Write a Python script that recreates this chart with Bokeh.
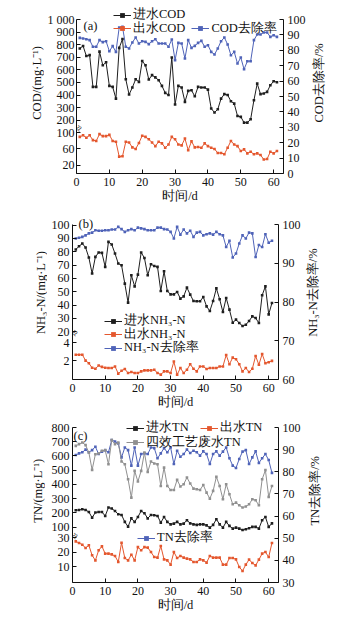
from bokeh.plotting import figure
from bokeh.models import (Range1d, LinearAxis, FixedTicker, Legend, LegendItem, Label)
from bokeh.layouts import column, row
from bokeh.embed import file_html
from bokeh.resources import INLINE

# ---------------- data ----------------
days = list(range(1, 62))
x_ticks = [0, 10, 20, 30, 40, 50, 60]

cod_in = [770, 790, 710, 717, 465, 465, 745, 637, 660, 473,
          465, 372, 775, 845, 525, 404, 460, 525, 505, 670,
          637, 523, 558, 540, 518, 473, 417, 400, 698, 325,
          473, 460, 346, 433, 438, 390, 465, 460, 460, 443,
          293, 261, 287, 372, 407, 400, 351, 332, 234, 227,
          181, 181, 208, 359, 491, 407, 412, 425, 478, 510, 502]
cod_out = [90, 94, 88, 94, 82, 80, 97, 92, 92, 95,
           80, 78, 41, 42, 78, 76, 64, 60, 75, 93,
           90, 84, 76, 67, 78, 74, 63, 71, 90, 84,
           71, 69, 86, 57, 79, 64, 65, 63, 74, 67,
           63, 60, 50, 50, 47, 63, 80, 71, 67, 55,
           59, 49, 53, 47, 49, 45, 34, 35, 53, 49, 55]
cod_rate = [88.1, 87.7, 87.2, 86.6, 82.3, 82.3, 86.6, 85.3, 85.9, 79.4,
            82.7, 79.0, 94.8, 95.2, 82.3, 81.2, 85.1, 88.3, 84.4, 85.9,
            85.5, 84.0, 85.9, 87.2, 84.4, 84.4, 84.4, 82.3, 87.0, 73.6,
            84.8, 84.4, 74.7, 86.6, 81.6, 82.9, 84.8, 86.1, 82.3, 83.3,
            79.0, 77.3, 81.2, 85.9, 88.3, 83.8, 76.8, 79.0, 71.4, 75.3,
            67.7, 72.9, 72.9, 86.6, 90.3, 90.3, 91.6, 91.6, 88.7, 89.8, 88.7]

nh_in = [81.7, 84.2, 86.2, 83.2, 75.7, 63.7, 76.2, 79.5, 79.2, 68.7,
         87.5, 85.5, 78.7, 71.2, 69.9, 56.1, 41.9, 62.4, 54.1, 62.9,
         79.5, 75.4, 62.4, 70.7, 69.4, 68.7, 50.6, 65.4, 50.6, 48.1,
         48.1, 49.9, 44.9, 46.6, 53.1, 47.9, 43.1, 42.9, 42.9, 46.1,
         39.1, 35.6, 43.1, 52.6, 44.4, 34.8, 45.4, 36.6, 26.8, 29.1,
         26.6, 24.3, 25.3, 28.1, 31.6, 30.3, 26.6, 47.4, 54.1, 33.1, 41.6]
nh_out = [2.65, 2.65, 2.65, 2.0, 1.7, 1.2, 1.1, 1.45, 1.3, 1.2,
          1.17, 1.17, 1.35, 0.55, 0.87, 1.06, 0.62, 0.73, 0.62, 0.62,
          0.80, 0.91, 0.91, 0.91, 0.98, 0.62, 0.44, 0.80, 0.80, 0.62,
          1.89, 0.44, 1.17, 0.62, 0.98, 1.60, 1.09, 0.80, 1.35, 1.35,
          1.06, 1.17, 1.17, 1.17, 1.35, 1.35, 2.62, 1.60, 2.33, 2.15,
          1.60, 0.80, 1.17, 0.73, 1.09, 2.51, 1.53, 2.73, 1.71, 1.82, 1.97]
nh_rate = [96.4, 96.6, 96.8, 97.2, 97.7, 97.9, 98.5, 98.4, 98.4, 98.5,
           98.5, 98.7, 98.7, 99.4, 98.8, 98.1, 98.5, 98.8, 98.5, 99.2,
           99.0, 98.8, 98.5, 98.5, 98.5, 99.2, 99.2, 98.8, 98.7, 98.1,
           96.4, 99.4, 97.4, 98.7, 97.7, 98.4, 96.8, 97.9, 98.1, 97.2,
           97.5, 97.7, 97.4, 98.1, 97.5, 97.2, 94.2, 95.8, 91.5, 92.5,
           95.1, 97.2, 96.4, 97.9, 97.7, 91.6, 94.7, 94.2, 97.5, 95.3, 95.8]

tn_in = [218, 220, 225, 220, 206, 166, 202, 206, 206, 178,
         237, 230, 213, 190, 185, 136, 103, 161, 136, 171,
         213, 197, 161, 185, 183, 178, 131, 171, 136, 119,
         124, 136, 119, 124, 148, 126, 119, 115, 119, 119,
         112, 96, 115, 155, 119, 96, 136, 108, 89, 96,
         89, 79, 84, 91, 101, 101, 89, 148, 171, 101, 126]
tn_out = [27.5, 26.4, 25.2, 23.0, 24.8, 18.0, 14.5, 21.4, 24.1, 19.1,
          19.1, 18.6, 17.5, 13.4, 26.6, 16.1, 14.5, 18.4, 14.5, 23.6,
          21.4, 23.6, 23.2, 20.2, 16.8, 16.4, 24.3, 15.2, 14.5, 11.6,
          20.2, 16.1, 17.5, 16.4, 15.7, 15.2, 13.4, 13.4, 15.2, 14.5,
          13.0, 17.5, 16.4, 16.4, 16.4, 11.6, 11.6, 16.1, 16.1, 15.2,
          10.0, 7.3, 11.6, 15.0, 12.7, 11.1, 15.0, 19.1, 20.2, 16.8, 26.4]
tn_four = [671, 683, 694, 676, 624, 502, 612, 617, 636, 640,
           542, 711, 683, 694, 561, 542, 436, 307, 495, 420,
           495, 624, 488, 561, 547, 542, 389, 518, 389, 361,
           361, 432, 385, 401, 448, 406, 370, 366, 361, 396,
           342, 300, 354, 453, 389, 295, 401, 331, 260, 272,
           253, 237, 244, 260, 295, 288, 253, 436, 500, 312, 389]
tn_rate = [87.6, 88.3, 88.8, 90.0, 88.8, 89.8, 91.3, 88.0, 89.1, 89.8,
           88.8, 94.3, 93.7, 92.8, 86.5, 91.0, 89.8, 82.8, 91.0, 82.8,
           88.0, 88.3, 88.0, 91.0, 90.7, 86.1, 88.3, 90.7, 88.8, 91.0,
           83.5, 89.5, 86.8, 88.0, 90.0, 88.5, 89.5, 88.8, 87.3, 89.2,
           88.0, 83.5, 88.0, 89.2, 87.3, 89.1, 91.0, 86.1, 82.8, 81.7,
           85.8, 89.1, 89.8, 83.5, 86.5, 89.2, 84.0, 86.1, 88.0, 85.3, 79.5]

# tick values
a_up_ticks = [200, 300, 400, 500, 600, 700, 800, 900, 1000]
a_lo_ticks = [20, 60, 100]
a_rate_ticks = [0, 10, 20, 30, 40, 50, 60, 70, 80, 90, 100]
b_up_ticks = [20, 30, 40, 50, 60, 70, 80, 90, 100]
b_lo_ticks = [2, 4]
b_rate_ticks = [60, 70, 80, 90, 100]
c_up_ticks = [100, 200, 300, 400, 500, 600, 700, 800]
c_lo_ticks = [10, 20, 30]
c_rate_ticks = [30, 40, 50, 60, 70, 80, 90, 100]

FONT = "Liberation Serif"
INK = "#111111"
BLACK, RED, BLUE, GRAY = "#1e1e1e", "#e4572e", "#4f63b8", "#909090"


def style_axis(ax, lab_standoff, title_standoff=0):
    ax.axis_line_color = INK
    ax.major_tick_in = 4
    ax.major_tick_out = 0
    ax.major_tick_line_color = INK
    ax.minor_tick_line_color = None
    ax.major_label_text_font = FONT
    ax.major_label_text_font_size = "12px"
    ax.major_label_text_color = INK
    ax.major_label_standoff = lab_standoff
    ax.axis_label_text_font = FONT
    ax.axis_label_text_font_size = "12.5px"
    ax.axis_label_text_font_style = "normal"
    ax.axis_label_text_color = INK
    ax.axis_label_standoff = title_standoff


def extend(rng, f):
    return (rng[0], rng[0] + (rng[1] - rng[0]) * f)


def make_panel(frame_w, frame_h, ext, borders, rate_rng, up_rng, lo_rng,
               up_ticks, lo_ticks, rate_ticks, tag, tag_pos, break_y, left_standoff=3):
    # the frame is made taller by `ext` px on top so that legends placed above
    # the axes' top end stay visible; ranges grow in proportion, axes are bounded
    L, R, T, B = borders
    f = (frame_h + ext) / frame_h
    p = figure(frame_width=frame_w, frame_height=frame_h + ext, x_range=Range1d(0, 63),
               y_range=Range1d(*extend(rate_rng, f)), output_backend="svg",
               toolbar_location=None, y_axis_location=None,
               min_border_left=L, min_border_right=R,
               min_border_top=T, min_border_bottom=B)
    p.extra_y_ranges = {"up": Range1d(*extend(up_rng, f)),
                        "lo": Range1d(*extend(lo_rng, f))}
    p.grid.visible = False
    p.outline_line_color = None
    p.background_fill_color = "white"
    p.border_fill_color = "white"

    xa = p.xaxis[0]
    xa.ticker = FixedTicker(ticks=x_ticks)
    xa.axis_label = "时间/d"
    style_axis(xa, 4, 0)

    def to_up(v):
        return round(up_rng[0] + (v - lo_rng[0]) / (lo_rng[1] - lo_rng[0])
                     * (up_rng[1] - up_rng[0]), 3)

    lo_pos = [to_up(v) for v in lo_ticks]
    overrides = {float(pos): str(v) for pos, v in zip(lo_pos, lo_ticks)}
    for v in up_ticks:
        overrides[float(v)] = "1 000" if v == 1000 else str(v)
    la = LinearAxis(y_range_name="up", bounds=up_rng,
                    ticker=FixedTicker(ticks=[float(v) for v in up_ticks] + [float(v) for v in lo_pos]),
                    major_label_overrides=overrides)
    style_axis(la, left_standoff)
    p.add_layout(la, "left")

    ra = LinearAxis(ticker=FixedTicker(ticks=rate_ticks), bounds=rate_rng)
    style_axis(ra, 4)
    p.add_layout(ra, "right")

    p.add_layout(Label(x=tag_pos[0], y=tag_pos[1], x_units="screen", y_units="screen",
                       text=tag, text_align="left", text_baseline="middle",
                       text_font=FONT, text_font_size="12.5px", text_color=INK))
    p.add_layout(Label(x=0.6, y=break_y, text="≈", angle=60, angle_units="deg",
                       text_align="center", text_baseline="middle",
                       text_font=FONT, text_font_size="11px", text_color=INK))
    return p


def title_fig(width, height, text, cx, cy):
    # a narrow strip beside a panel that carries a vertical axis title
    t = figure(width=width, height=height, x_range=Range1d(0, width),
               y_range=Range1d(0, height), output_backend="svg",
               toolbar_location=None, x_axis_location=None, y_axis_location=None,
               min_border=0)
    t.outline_line_color = None
    t.grid.visible = False
    t.add_layout(Label(x=cx, y=height - cy, text=text, angle=90, angle_units="deg",
                       text_align="center", text_baseline="middle", text_font=FONT,
                       text_font_size="12.5px", text_color=INK))
    return t


def series(p, y, rng, color):
    ln = p.line(days, y, y_range_name=rng, line_color=color, line_width=1)
    sc = p.scatter(days, y, y_range_name=rng, marker="square", size=2.6,
                   line_color=None, fill_color=color)
    return [ln, sc]


def add_legend(p, items, loc, orientation="vertical", spacing=6):
    leg = Legend(items=[LegendItem(label=lab, renderers=r) for lab, r in items],
                 location=loc, orientation=orientation, spacing=spacing,
                 background_fill_alpha=0, border_line_color=None,
                 label_text_font=FONT, label_text_font_size="12.5px",
                 label_text_color=INK,
                 glyph_width=18, glyph_height=12, label_height=12,
                 label_standoff=2, padding=0, margin=0)
    p.add_layout(leg)


# ---------------- panel (a) ----------------
pa = make_panel(207, 154, 15, (32, 22, 4, 34), (0, 100), (-223, 1000), (-1, 382),
                a_up_ticks, a_lo_ticks, a_rate_ticks, "(a)", (7, 148), 29.5, 2)
ra_ = series(pa, cod_rate, "default", BLUE)
rb_ = series(pa, cod_in, "up", BLACK)
rc_ = series(pa, cod_out, "lo", RED)
add_legend(pa, [("进水COD", rb_)], (37, 150))
add_legend(pa, [("出水COD", rc_), ("COD去除率", ra_)], (37, 136.5), "horizontal", 6)
row_a = row(title_fig(44, 207, "COD/(mg·L⁻¹)", 36.5, 96), pa,
            title_fig(51, 207, "COD去除率/%", 10, 96), spacing=0)

# ---------------- panel (b) ----------------
pb = make_panel(206, 155, 7, (25, 24, 10, 32), (60, 100), (-15.8, 100.5), (-0.1, 17.1),
                b_up_ticks, b_lo_ticks, b_rate_ticks, "(b)", (6, 155.7), 72)
rb1 = series(pb, nh_rate, "default", BLUE)
rb2 = series(pb, nh_in, "up", BLACK)
rb3 = series(pb, nh_out, "lo", RED)
add_legend(pb, [("进水NH₃-N", rb2)], (32, 50))
add_legend(pb, [("出水NH₃-N", rb3)], (32, 36.5))
add_legend(pb, [("NH₃-N去除率", rb1)], (32, 23))
row_b = row(title_fig(47, 204, "NH₃-N/(mg·L⁻¹)", 40, 94.5), pb,
            title_fig(54, 204, "NH₃-N去除率/%", 9.7, 94.5), spacing=0)

# ---------------- panel (c) ----------------
pc = make_panel(206, 155, 11, (27, 24, 5, 38), (30, 100), (-290, 800), (-0.6, 105.3),
                c_up_ticks, c_lo_ticks, c_rate_ticks, "(c)", (1, 147), 51)
rc1 = series(pc, tn_rate, "default", BLUE)
rc4 = series(pc, tn_four, "up", GRAY)
rc2 = series(pc, tn_in, "up", BLACK)
rc3 = series(pc, tn_out, "lo", RED)
add_legend(pc, [("进水TN", rc2), ("出水TN", rc3)], (54, 145.7), "horizontal", 11)
add_legend(pc, [("四效工艺废水TN", rc4)], (54, 131.4))
add_legend(pc, [("TN去除率", rc1)], (65, 35.7))
row_c = row(title_fig(45, 209, "TN/(mg·L⁻¹)", 37.3, 93.5), pc,
            title_fig(54, 209, "TN去除率/%", 11, 93.5), spacing=0)

layout = column(row_a, row_b, row_c, spacing=0)
open("out.html", "w").write(file_html(layout, INLINE))
